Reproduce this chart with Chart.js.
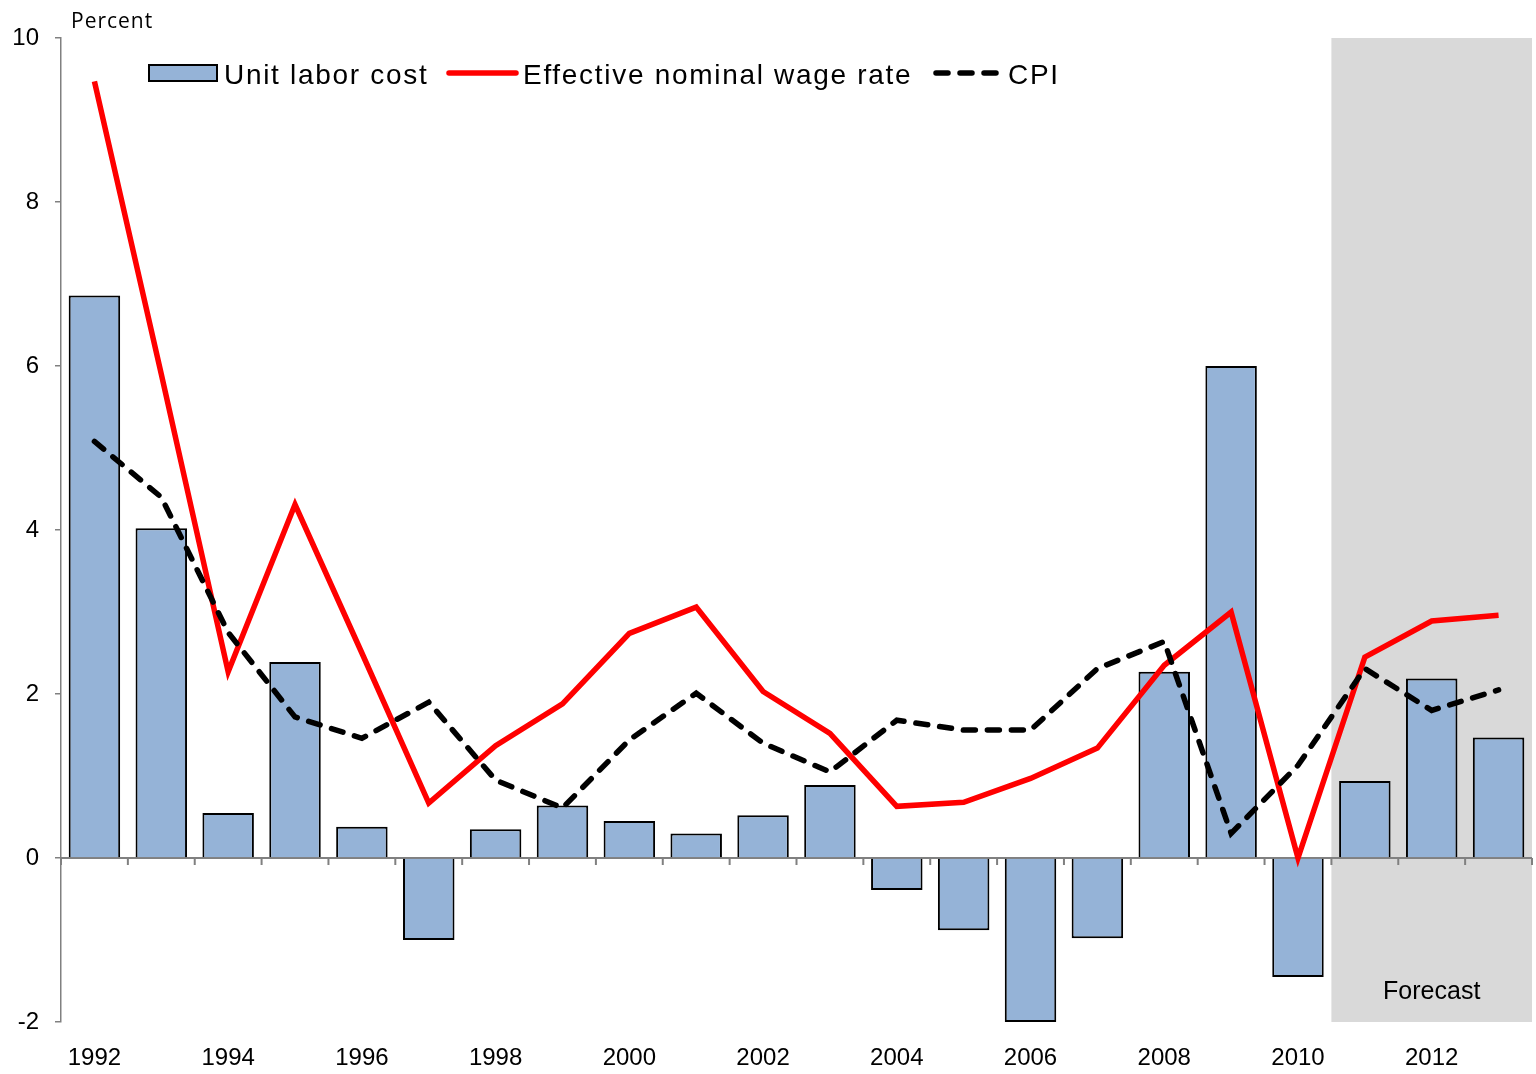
<!DOCTYPE html>
<html>
<head>
<meta charset="utf-8">
<script src="https://cdn.jsdelivr.net/npm/chart.js@4/dist/chart.umd.min.js"></script>
<style>
  body { margin: 0; background: #fff; }
  #wrap { width: 1536px; height: 1074px; }
</style>
</head>
<body>
<div id="wrap"><canvas id="laborChart"></canvas></div>
<script>
const years = ['1992','1993','1994','1995','1996','1997','1998','1999','2000','2001','2002',
               '2003','2004','2005','2006','2007','2008','2009','2010','2011','2012','2013'];
const unitLaborCost = [6.86, 4.02, 0.55, 2.39, 0.38, -1.00, 0.35, 0.64, 0.45, 0.30, 0.52,
                       0.89, -0.39, -0.88, -2.00, -0.98, 2.27, 6.00, -1.45, 0.94, 2.19, 1.47];
const wageRate = [9.47, 5.90, 2.27, 4.31, 2.50, 0.67, 1.37, 1.88, 2.74, 3.06, 2.03,
                  1.52, 0.63, 0.68, 0.97, 1.34, 2.35, 3.00, 0.00, 2.45, 2.89, 2.96];
const cpi = [5.08, 4.40, 2.75, 1.72, 1.46, 1.90, 0.95, 0.61, 1.44, 2.01, 1.40,
             1.05, 1.68, 1.56, 1.56, 2.31, 2.64, 0.30, 1.13, 2.31, 1.80, 2.05];
const yTicks = [-2, 0, 2, 4, 6, 8, 10];
const forecastFrom = '2011';

const FONT = 'Arial, "Liberation Sans", sans-serif';
const AXIS_GRAY = '#808080';

// forecast shading + zero line with year ticks
const backdrop = {
  id: 'backdrop',
  beforeDatasetsDraw(chart) {
    const ctx = chart.ctx, x = chart.scales.x, y = chart.scales.y, area = chart.chartArea;
    const step = x.getPixelForValue(1) - x.getPixelForValue(0);
    const fx = x.getPixelForValue(years.indexOf(forecastFrom)) - step / 2;
    ctx.save();
    ctx.fillStyle = '#d9d9d9';
    ctx.fillRect(fx, area.top, area.right - fx, area.bottom - area.top);
    ctx.fillStyle = '#000';
    ctx.font = '25px ' + FONT;
    ctx.textAlign = 'center';
    ctx.textBaseline = 'alphabetic';
    ctx.fillText('Forecast', x.getPixelForValue(years.indexOf('2012')), area.bottom - 23);

    const y0 = y.getPixelForValue(0);
    ctx.strokeStyle = AXIS_GRAY;
    ctx.lineWidth = 2;
    ctx.beginPath();
    ctx.moveTo(area.left, y0);
    ctx.lineTo(area.right, y0);
    for (let i = 0; i <= years.length; i++) {
      const bx = x.getPixelForValue(0) - step / 2 + i * step;
      ctx.moveTo(bx, y0);
      ctx.lineTo(bx, y0 + 7);
    }
    ctx.stroke();
    ctx.restore();
  },
  afterDraw(chart) {
    const ctx = chart.ctx;
    const ds = chart.data.datasets;
    ctx.save();
    ctx.fillStyle = '#000';
    ctx.font = '21px "Open Sans", sans-serif';
    ctx.letterSpacing = '1px';
    ctx.textBaseline = 'alphabetic';
    ctx.fillText('Percent', 71, 28);

    // legend
    ctx.font = '28px ' + FONT;
    ctx.letterSpacing = '1.7px';
    ctx.fillStyle = ds[0].backgroundColor;
    ctx.fillRect(149, 65, 68, 16);
    ctx.strokeStyle = '#000';
    ctx.lineWidth = 2;
    ctx.strokeRect(149, 65, 68, 16);
    ctx.fillStyle = '#000';
    ctx.fillText(ds[0].label, 224, 84);

    ctx.lineWidth = ds[1].borderWidth;
    ctx.lineCap = 'round';
    ctx.strokeStyle = ds[1].borderColor;
    ctx.beginPath(); ctx.moveTo(449, 73); ctx.lineTo(516, 73); ctx.stroke();
    ctx.fillText(ds[1].label, 523, 84);

    ctx.strokeStyle = ds[2].borderColor;
    ctx.setLineDash(ds[2].borderDash);
    ctx.beginPath(); ctx.moveTo(936, 73); ctx.lineTo(996, 73); ctx.stroke();
    ctx.setLineDash([]);
    ctx.fillText(ds[2].label, 1008, 84);
    ctx.restore();
  }
};

new Chart(document.getElementById('laborChart'), {
  data: {
    labels: years,
    datasets: [
      {
        type: 'bar',
        label: 'Unit labor cost',
        data: unitLaborCost,
        backgroundColor: '#95b3d7',
        borderColor: '#000',
        borderWidth: 2,
        barPercentage: 0.77,
        categoryPercentage: 1,
        order: 3
      },
      {
        type: 'line',
        label: 'Effective nominal wage rate',
        data: wageRate,
        borderColor: '#ff0000',
        borderWidth: 5.5,
        pointRadius: 0,
        tension: 0,
        order: 2
      },
      {
        type: 'line',
        label: 'CPI',
        data: cpi,
        borderColor: '#000',
        borderWidth: 5.5,
        borderDash: [12, 12],
        borderCapStyle: 'round',
        pointRadius: 0,
        tension: 0,
        order: 1
      }
    ]
  },
  options: {
    responsive: true,
    maintainAspectRatio: false,
    animation: false,
    layout: { padding: { top: 38, right: 4, left: 0, bottom: 0 } },
    plugins: { legend: { display: false }, tooltip: { enabled: false } },
    scales: {
      x: {
        grid: { display: false, drawTicks: false },
        border: { display: false },
        ticks: {
          autoSkip: false,
          maxRotation: 0,
          padding: 22,
          color: '#000',
          font: { family: FONT, size: 24 },
          callback: (v, i) => (i % 2 === 0 ? years[i] : '')
        },
        afterFit: s => { s.height = 52; }
      },
      y: {
        min: yTicks[0],
        max: yTicks[yTicks.length - 1],
        afterBuildTicks: s => { s.ticks = yTicks.map(v => ({ value: v })); },
        grid: { drawOnChartArea: false, tickLength: 6, color: AXIS_GRAY, lineWidth: 1.5 },
        border: { color: AXIS_GRAY, width: 1.5 },
        ticks: { padding: 16, color: '#000', font: { family: FONT, size: 24 } },
        afterFit: s => { s.width = 61; }
      }
    }
  },
  plugins: [backdrop]
});
</script>
</body>
</html>
